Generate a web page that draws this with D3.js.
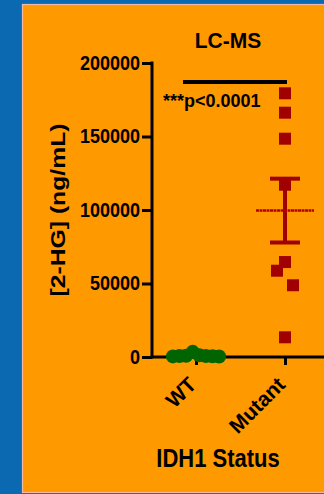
<!DOCTYPE html>
<html><head><meta charset="utf-8">
<script src="https://cdn.jsdelivr.net/npm/d3@7"></script>
<style>html,body{margin:0;padding:0;background:#0a69b0;overflow:hidden}</style>
</head><body><svg id="c" width="324" height="494"></svg>
<script>
// ---- data ----
const categories = ["WT", "Mutant"];
const wtValues = [3500, 1200, 900, 700, 600, 500, 400, 300];
const mutantValues = [179400, 166200, 148500, 117200, 64600, 58700, 48800, 13400];
const yTicks = [0, 50000, 100000, 150000, 200000];
const yTickLabels = ["0", "50000", "100000", "150000", "200000"];
const chartTitle = "LC-MS";
const yTitle = "[2-HG] (ng/mL)";
const xTitle = "IDH1 Status";
const sigLabel = "***p<0.0001";

// ---- layout ----
const FONT = "'Liberation Sans', Arial, Helvetica, sans-serif";
const svg = d3.select("#c");
svg.append("rect").attr("width", 324).attr("height", 494).attr("fill", "#0a69b0");
svg.append("rect").attr("x", 22.5).attr("y", 4.5).attr("width", 310).attr("height", 488)
  .attr("fill", "#ff9900").attr("stroke", "#f3b9a6").attr("stroke-width", 1.2);

const y = d3.scaleLinear().domain([0, 200000]).range([357, 63]);
const x = d3.scalePoint().domain(categories).range([196, 285]);
const axisX0 = 152;

function txt(g, tx, ty, str, size, anchor, sy, rot) {
  const t = g.append("text")
    .attr("transform", `translate(${tx},${ty}) rotate(${rot || 0}) scale(1,${sy || 1})`)
    .attr("font-family", FONT).attr("font-weight", "bold").attr("font-size", size)
    .attr("text-anchor", anchor).attr("fill", "#000").text(str);
  return t;
}

// title
txt(svg, 228, 48, chartTitle, 21, "middle", 1.05);

// y axis
const yAxis = d3.axisLeft(y).tickValues(yTicks).tickSize(10)
  .tickFormat((d, i) => yTickLabels[i]);
const gy = svg.append("g").attr("transform", `translate(${axisX0},0)`).call(yAxis);
gy.select(".domain").remove();
gy.selectAll(".tick line").attr("stroke", "#000").attr("stroke-width", 3);
gy.selectAll(".tick text").remove();
yTicks.forEach((v, i) => {
  txt(svg, axisX0 - 12, y(v) + 6.5, yTickLabels[i], 18, "end", 1.1);
});
svg.append("line").attr("x1", axisX0).attr("x2", axisX0)
  .attr("y1", y(200000) - 1.5).attr("y2", y(0) + 1.5)
  .attr("stroke", "#000").attr("stroke-width", 3);

// x axis
const xAxis = d3.axisBottom(x).tickSize(8).tickFormat("");
const gx = svg.append("g").attr("transform", `translate(0,${y(0)})`).call(xAxis);
gx.select(".domain").remove();
gx.selectAll(".tick line").attr("stroke", "#000").attr("stroke-width", 3);
svg.append("line").attr("x1", axisX0 - 1.5).attr("x2", 324)
  .attr("y1", y(0)).attr("y2", y(0))
  .attr("stroke", "#000").attr("stroke-width", 3);
categories.forEach(c => {
  txt(svg, x(c) + 1.5, 386, c, 21, "end", 1, -45);
});

// axis titles
txt(svg, 65, 210, yTitle, 21, "middle", 1, -90).attr("textLength", 173).attr("lengthAdjust", "spacingAndGlyphs");
txt(svg, 218, 467, xTitle, 22, "middle", 1.15);

// beeswarm-like spreading (points close in value are spread sideways)
function swarm(vals, cx, spacing, gap) {
  const pts = vals.map(v => ({ v, py: y(v) })).sort((a, b) => a.py - b.py);
  const clusters = [];
  pts.forEach((p, i) => {
    if (i > 0 && p.py - pts[i - 1].py < gap) clusters[clusters.length - 1].push(p);
    else clusters.push([p]);
  });
  clusters.forEach(cl => {
    const k = cl.length;
    const slots = d3.range(k).map(j => j - (k - 1) / 2)
      .sort((a, b) => Math.abs(a) - Math.abs(b) || a - b);
    cl.forEach((p, i) => p.px = cx + slots[i] * spacing);
  });
  return pts;
}

// WT circles
const wtPts = swarm(wtValues, x("WT"), 6.6, 16);
svg.append("g").selectAll("circle").data(wtPts).join("circle")
  .attr("cx", d => d.px).attr("cy", d => d.py).attr("r", 7)
  .attr("fill", "#006400");

// Mutant squares
const mutPts = swarm(mutantValues, x("Mutant"), 8, 16);
const sq = 12;
svg.append("g").selectAll("rect").data(mutPts).join("rect")
  .attr("x", d => d.px - sq / 2).attr("y", d => d.py - sq / 2)
  .attr("width", sq).attr("height", sq).attr("fill", "#a00000");

// mean ± SEM for mutant
const red = "#a00000";
const m = d3.mean(mutantValues);
const sem = d3.deviation(mutantValues) / Math.sqrt(mutantValues.length);
const mx = x("Mutant");
svg.append("line").attr("x1", mx).attr("x2", mx).attr("y1", y(m + sem)).attr("y2", y(m - sem))
  .attr("stroke", red).attr("stroke-width", 4);
[m + sem, m - sem].forEach(v => {
  svg.append("line").attr("x1", mx - 15).attr("x2", mx + 15).attr("y1", y(v)).attr("y2", y(v))
    .attr("stroke", red).attr("stroke-width", 4);
});
svg.append("line").attr("x1", mx - 29).attr("x2", mx + 29).attr("y1", y(m)).attr("y2", y(m))
  .attr("stroke", "#b00000").attr("stroke-width", 2.5).attr("stroke-dasharray", "3,0.5");

// significance bar
svg.append("line").attr("x1", x("WT") - 13).attr("x2", x("Mutant") + 2)
  .attr("y1", 82).attr("y2", 82).attr("stroke", "#000").attr("stroke-width", 4);
txt(svg, 163, 107, sigLabel, 18, "start", 1.05);
</script></body></html>
